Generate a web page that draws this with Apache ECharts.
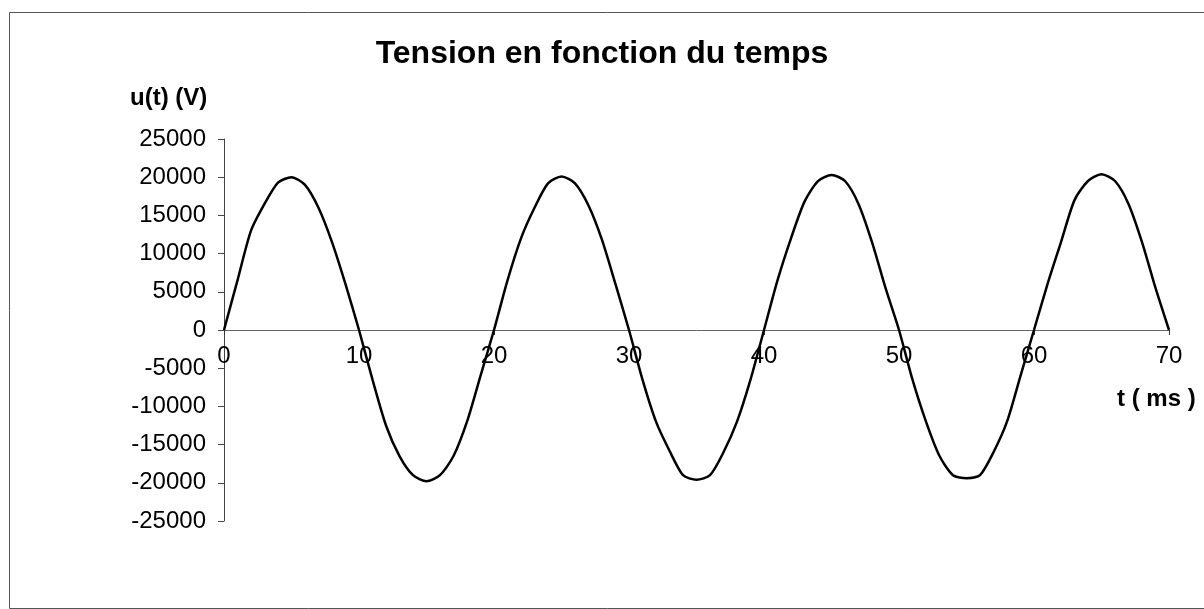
<!DOCTYPE html>
<html>
<head>
<meta charset="utf-8">
<script src="https://cdn.jsdelivr.net/npm/echarts@6/dist/echarts.min.js"></script>
<style>
html,body{margin:0;padding:0;background:#fff;}
#c{width:1204px;height:609px;}
</style>
</head>
<body>
<div id="c"></div>
<script>
// time in ms
var times = [0,1,2,3,4,5,6,7,8,9,10,11,12,13,14,15,16,17,18,19,20,21,22,23,24,25,26,27,28,29,30,31,32,33,34,35,36,37,38,39,40,41,42,43,44,45,46,47,48,49,50,51,52,53,54,55,56,57,58,59,60,61,62,63,64,65,66,67,68,69,70];
// u(t) in V
var voltages = [0,6500,13000,16500,19300,20000,19000,16000,11500,6000,
  0,-6500,-12500,-16500,-19000,-19800,-19000,-16500,-12000,-6000,
  0,6500,12000,16000,19200,20100,19200,16300,11800,6000,
  0,-6500,-12000,-15800,-19000,-19600,-19000,-16000,-12000,-6500,
  0,6500,12000,16800,19500,20300,19500,16500,11500,5500,
  0,-6500,-12000,-16500,-19000,-19400,-19000,-16000,-12000,-6000,
  0,6000,11500,17000,19500,20400,19500,16500,11500,5500,0];
var yTicks = [-25000,-20000,-15000,-10000,-5000,0,5000,10000,15000,20000,25000];
var xTicks = [0,10,20,30,40,50,60,70];
var titleText = 'Tension en fonction du temps';
var yName = 'u(t) (V)';
var xName = 't ( ms )';

var pts = times.map(function(t,i){return [t, voltages[i]];});
var font = '"Liberation Sans", Arial, sans-serif';
var gridTop = 139, gridBottom = 88, H = 609;
var plotH = H - gridTop - gridBottom;
// move the x axis (line, ticks, labels) up to the y = 0 line
var yMin = yTicks[0], yMax = yTicks[yTicks.length-1];
var zeroOffset = -plotH * (0 - yMin) / (yMax - yMin);
var chart = echarts.init(document.getElementById('c'), null, {renderer:'canvas'});
chart.setOption({
  animation:false,
  backgroundColor:'#fff',
  title:{text:titleText,left:'center',top:33,textStyle:{fontFamily:font,fontSize:32,fontWeight:'bold',color:'#000'}},
  grid:{left:224,right:35,top:gridTop,bottom:gridBottom,containLabel:false},
  xAxis:{type:'value',min:xTicks[0],max:xTicks[xTicks.length-1],interval:10,
    offset:zeroOffset,
    axisLine:{onZero:false,lineStyle:{color:'#666',width:1}},
    axisTick:{show:true,length:5,lineStyle:{color:'#333'}},
    axisLabel:{fontFamily:font,fontSize:24,color:'#000',margin:14},
    splitLine:{show:false}},
  yAxis:{type:'value',min:yMin,max:yMax,interval:5000,
    axisLine:{show:true,onZero:false,lineStyle:{color:'#444',width:1}},
    axisTick:{show:true,length:6,lineStyle:{color:'#444'}},
    axisLabel:{fontFamily:font,fontSize:24,color:'#000',margin:18,
      formatter:function(v){return String(v);}},
    splitLine:{show:false}},
  graphic:[
    {type:'rect',left:7,top:10,shape:{width:1205,height:596},style:{fill:'none',stroke:'#555',lineWidth:1},silent:true,z:-1},
    {type:'text',left:130,top:86,style:{text:yName,font:'bold 24px '+font,fill:'#000'}},
    {type:'text',left:1117,top:387,style:{text:xName,font:'bold 24px '+font,fill:'#000'}}
  ],
  series:[{type:'line',data:pts,showSymbol:false,smooth:0.25,
    lineStyle:{color:'#000',width:2.5},z:3}]
});
</script>
</body>
</html>
